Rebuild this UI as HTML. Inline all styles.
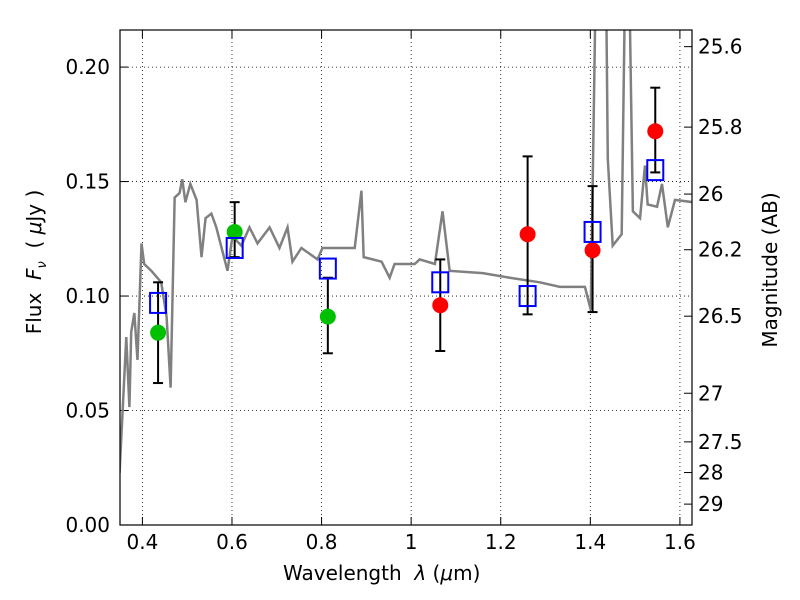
<!DOCTYPE html>
<html><head><meta charset="utf-8"><style>html,body{margin:0;background:#fff;width:800px;height:600px;overflow:hidden}svg{display:block;font-family:"DejaVu Sans","Liberation Sans",sans-serif}</style></head>
<body>
<svg id="c" width="800" height="600"></svg>
<script>
const specWl=[0.349,0.364,0.371,0.375,0.382,0.389,0.398,0.404,0.420,0.442,0.454,0.463,0.472,0.483,0.489,0.496,0.507,0.521,0.532,0.541,0.554,0.565,0.590,0.601,0.621,0.639,0.657,0.684,0.706,0.724,0.735,0.755,0.791,0.802,0.858,0.874,0.889,0.894,0.934,0.952,0.963,1.008,1.019,1.053,1.070,1.086,1.160,1.220,1.287,1.332,1.388,1.401,1.417,1.432,1.439,1.450,1.470,1.482,1.495,1.511,1.522,1.528,1.549,1.560,1.573,1.589,1.629];
const specFlux=[0.0227,0.0821,0.0515,0.0843,0.0926,0.0721,0.123,0.114,0.111,0.106,0.091,0.060,0.143,0.145,0.151,0.141,0.149,0.142,0.117,0.134,0.136,0.130,0.111,0.126,0.122,0.130,0.123,0.130,0.121,0.130,0.115,0.121,0.116,0.121,0.121,0.121,0.146,0.117,0.115,0.108,0.114,0.114,0.116,0.114,0.137,0.111,0.110,0.108,0.106,0.104,0.104,0.094,0.3,0.3,0.160,0.122,0.127,0.3,0.137,0.134,0.157,0.140,0.139,0.149,0.130,0.142,0.141];
const greenWl=[0.435,0.606,0.814];
const greenFlux=[0.084,0.128,0.091];
const greenLo=[0.062,0.117,0.075];
const greenHi=[0.106,0.141,0.108];
const redWl=[1.065,1.26,1.405,1.545];
const redFlux=[0.096,0.127,0.120,0.172];
const redLo=[0.076,0.092,0.093,0.154];
const redHi=[0.116,0.161,0.148,0.191];
const modelWl=[0.435,0.606,0.814,1.065,1.26,1.405,1.545];
const modelFlux=[0.097,0.121,0.112,0.106,0.100,0.128,0.155];
const xTicks=[0.4,0.6,0.8,1,1.2,1.4,1.6];
const xLabels=["0.4","0.6","0.8","1","1.2","1.4","1.6"];
const yTicks=[0,0.05,0.10,0.15,0.20];
const yLabels=["0.00","0.05","0.10","0.15","0.20"];
const magTicks=[25.6,25.8,26,26.2,26.5,27,27.5,28,29];
const magLabels=["25.6","25.8","26","26.2","26.5","27","27.5","28","29"];

const L=120,R=692,T=30,B=525,X0=0.35,X1=1.627,Y0=0,Y1=0.2162;
const sx=v=>L+(v-X0)/(X1-X0)*(R-L);
const sy=v=>B-(v-Y0)/(Y1-Y0)*(B-T);
const NS="http://www.w3.org/2000/svg";
const svg=document.getElementById('c');
function mk(t,a,p){const e=document.createElementNS(NS,t);for(const k in a)e.setAttribute(k,a[k]);(p||svg).appendChild(e);return e;}
const defs=mk('defs',{});const cp=mk('clipPath',{id:'clip'},defs);mk('rect',{x:L,y:T,width:R-L,height:B-T},cp);
xTicks.forEach((v,i)=>{const g=mk('line',{x1:sx(v),x2:sx(v),y1:T,y2:B,stroke:'#000','stroke-width':0.8,'stroke-dasharray':'1,3'});


mk('line',{x1:sx(v),x2:sx(v),y1:B,y2:B-8,stroke:'#000'});mk('line',{x1:sx(v),x2:sx(v),y1:T,y2:T+8,stroke:'#000'});
const t=mk('text',{x:sx(v),y:B+24,'font-size':20,'text-anchor':'middle'});t.textContent=xLabels[i];

});
yTicks.forEach((v,i)=>{const g=mk('line',{x1:L,x2:R,y1:sy(v),y2:sy(v),stroke:'#000','stroke-width':0.8,'stroke-dasharray':'1,3'});


mk('line',{x1:L,x2:L+8,y1:sy(v),y2:sy(v),stroke:'#000'});
const t=mk('text',{x:L-10,y:sy(v)+7,'font-size':20,'text-anchor':'end'});t.textContent=yLabels[i];

});
magTicks.forEach((m,i)=>{const f=Math.pow(10,(23.9-m)/2.5);const y=sy(f);
mk('line',{x1:R,x2:R-8,y1:y,y2:y,stroke:'#000'});
const t=mk('text',{x:R+6,y:y+7,'font-size':20});t.textContent=magLabels[i];

});
const sp=mk('polyline',{points:specWl.map((w,i)=>sx(w)+','+sy(specFlux[i])).join(' '),fill:'none',stroke:'#808080','stroke-width':2.5,'clip-path':'url(#clip)'});


function errs(wl,lo,hi){wl.forEach((w,i)=>{const x=sx(w);mk('line',{x1:x,x2:x,y1:sy(lo[i]),y2:sy(hi[i]),stroke:'#000','stroke-width':2});
[lo[i],hi[i]].forEach(v=>mk('line',{x1:x-5,x2:x+5,y1:sy(v),y2:sy(v),stroke:'#000','stroke-width':2}));});}
errs(greenWl,greenLo,greenHi);errs(redWl,redLo,redHi);
greenWl.forEach((w,i)=>{const c=mk('circle',{cx:sx(w),cy:sy(greenFlux[i]),r:8,fill:'#00c000'});

});
redWl.forEach((w,i)=>{const c=mk('circle',{cx:sx(w),cy:sy(redFlux[i]),r:8,fill:'#ff0000'});

});
modelWl.forEach((w,i)=>{const r=mk('rect',{x:sx(w)-8,y:sy(modelFlux[i])-10,width:16,height:20,fill:'none',stroke:'#0000ff','stroke-width':2});

});
const fr=mk('rect',{x:L,y:T,width:R-L,height:B-T,fill:'none',stroke:'#000','stroke-width':1.2});


</script>
<div style="position:absolute;left:0;top:0;width:800px;height:600px;pointer-events:none;font-family:'DejaVu Sans','Liberation Sans',sans-serif">
<div style="position:absolute;left:283px;top:561px;font-size:20px;white-space:nowrap">Wavelength &nbsp;<i>λ</i> (<i>μ</i>m)</div>
<div style="position:absolute;left:36px;top:262px;font-size:20px;transform:translate(-50%,-50%) rotate(-90deg);white-space:nowrap">Flux &nbsp;<i>F<sub style="font-size:13px">ν</sub></i> &nbsp;( <i>μ</i>Jy )</div>
<div style="position:absolute;left:770px;top:270px;font-size:20px;transform:translate(-50%,-50%) rotate(-90deg);white-space:nowrap">Magnitude (AB)</div>
</div>
</body></html>
